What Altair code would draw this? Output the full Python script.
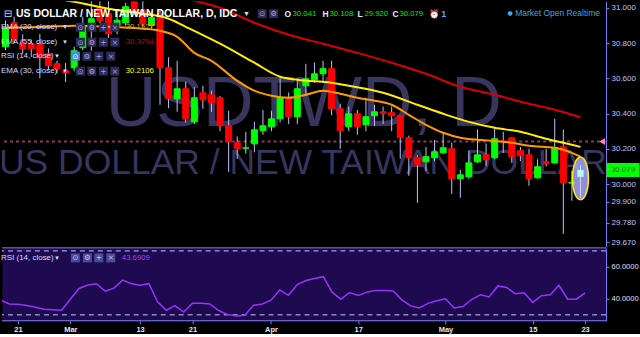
import altair as alt
import pandas as pd

# ---------------- data ----------------
opens = [30.78, 30.916, 30.802, 30.796, 30.796, 30.74, 30.683, 30.643, 30.66, 30.774,
         30.916, 31.0, 30.967, 30.90, 30.916, 31.035, 30.99, 30.90, 30.967, 30.66,
         30.484, 30.541, 30.353, 30.518, 30.507, 30.49, 30.331, 30.234, 30.203, 30.228,
         30.302, 30.325, 30.37, 30.49, 30.382, 30.558, 30.592, 30.626, 30.655, 30.427,
         30.325, 30.399, 30.336, 30.388, 30.41, 30.405, 30.388, 30.263, 30.149, 30.126,
         30.149, 30.177, 30.20, 30.03, 30.041, 30.126, 30.166, 30.149, 30.245, 30.263,
         30.189, 30.166, 30.035, 30.126, 30.12, 30.211, 30.005, 30.041]
closes = [30.89, 30.825, 30.768, 30.768, 30.717, 30.672, 30.655, 30.632, 30.757, 30.899,
          30.939, 30.927, 30.853, 30.93, 31.007, 30.973, 30.91, 30.945, 30.66, 30.484,
          30.541, 30.37, 30.49, 30.478, 30.461, 30.331, 30.24, 30.20, 30.206, 30.308,
          30.331, 30.37, 30.49, 30.382, 30.541, 30.598, 30.626, 30.655, 30.427, 30.302,
          30.399, 30.325, 30.382, 30.41, 30.40, 30.388, 30.263, 30.149, 30.109, 30.155,
          30.183, 30.206, 30.03, 30.052, 30.12, 30.166, 30.138, 30.257, 30.24, 30.155,
          30.16, 30.03, 30.098, 30.115, 30.206, 30.007, 30.01, 30.079]
highs = [30.93, 30.95, 30.85, 30.82, 30.853, 30.77, 30.70, 30.687, 30.78, 30.95,
         31.04, 31.04, 31.04, 30.98, 31.03, 31.05, 31.04, 30.98, 30.99, 30.72,
         30.70, 30.58, 30.55, 30.558, 30.53, 30.50, 30.416, 30.27, 30.297, 30.353,
         30.42, 30.416, 30.60, 30.52, 30.60, 30.683, 30.69, 30.70, 30.70, 30.456,
         30.44, 30.42, 30.49, 30.45, 30.44, 30.44, 30.39, 30.275, 30.166, 30.21,
         30.25, 30.29, 30.234, 30.081, 30.189, 30.31, 30.23, 30.325, 30.297, 30.263,
         30.21, 30.20, 30.14, 30.20, 30.37, 30.31, 30.075, 30.108]
lows = [30.76, 30.80, 30.74, 30.72, 30.60, 30.65, 30.63, 30.58, 30.64, 30.76,
        30.757, 30.90, 30.83, 30.85, 30.90, 30.96, 30.88, 30.88, 30.45, 30.43,
        30.41, 30.35, 30.34, 30.427, 30.41, 30.30, 30.069, 30.143, 30.172, 30.18,
        30.28, 30.30, 30.35, 30.34, 30.34, 30.501, 30.575, 30.575, 30.39, 30.20,
        30.30, 30.28, 30.30, 30.33, 30.34, 30.30, 30.143, 30.047, 29.893, 30.075,
        30.13, 30.17, 29.944, 29.922, 30.03, 30.12, 30.103, 30.14, 30.177, 30.12,
        30.13, 29.99, 30.03, 30.10, 30.115, 29.717, 29.905, 29.92]

rsi_values = [39.2, 36.8, 36.6, 35.8, 34.7, 33.5, 33.2, 32.9, 39.7, 46.5,
              48.7, 49.5, 44.8, 46.7, 51.7, 49.5, 48.5, 49.5, 38.2, 32.9,
              35.8, 31.7, 37.2, 37.2, 36.8, 32.7, 30.3, 29.3, 29.7, 36.0,
              36.8, 39.2, 45.5, 42.2, 48.9, 51.5, 52.7, 53.9, 44.2, 39.8,
              44.0, 42.2, 44.2, 45.3, 45.2, 45.0, 39.4, 35.6, 34.3, 37.2,
              38.8, 40.0, 34.3, 35.2, 39.6, 42.6, 41.2, 48.1, 47.1, 43.2,
              43.8, 37.8, 42.0, 42.6, 48.5, 39.8, 39.8, 43.7]

ema20_idx = [0, 5, 8, 12, 16, 18, 20, 22, 24, 27, 29, 31, 33, 35, 37, 39, 41, 43, 45, 47,
             49, 51, 53, 55, 57, 59, 61, 64, 66, 67]
ema20_val = [30.888, 30.893, 30.899, 30.893, 30.882, 30.870, 30.836, 30.745, 30.70, 30.586,
             30.53, 30.501, 30.49, 30.507, 30.53, 30.513, 30.49, 30.473, 30.45, 30.393,
             30.336, 30.291, 30.263, 30.251, 30.245, 30.234, 30.217, 30.206, 30.177, 30.155]
ema30_idx = [5, 8, 12, 16, 19, 21, 25, 29, 32, 34, 38, 40, 44, 48, 51, 54, 57, 60, 63, 65, 67]
ema30_val = [31.06, 31.035, 30.995, 30.967, 30.939, 30.893, 30.797, 30.689, 30.609, 30.592,
             30.575, 30.558, 30.518, 30.45, 30.399, 30.353, 30.319, 30.297, 30.257, 30.234, 30.211]
ema55_idx = [18, 22, 25, 29, 33, 37, 41, 45, 49, 53, 57, 61, 64, 67]
ema55_val = [31.07, 31.041, 31.001, 30.916, 30.848, 30.797, 30.745, 30.689, 30.626, 30.552,
             30.507, 30.456, 30.422, 30.379]

tick_idx = [2, 8, 16, 22, 31, 41, 51, 61, 67]
tick_lbl = ["21", "Mar", "13", "21", "Apr", "17", "May", "15", "23"]
price_ticks = [31.0, 30.8, 30.6, 30.4, 30.2, 30.0, 29.9, 29.78, 29.67]
rsi_ticks = [60, 40]
rsi_levels = [70, 30]
hline_level = 30.241
highlight_idx = 67
highlight_center = 30.032

title_text = "US DOLLAR / NEW TAIWAN DOLLAR, D, IDC"
wm_big = "USDTWD, D"
wm_small = "US DOLLAR / NEW TAIWAN DOLLAR"
ohlc_labels = ["O", "H", "L", "C"]
ohlc_values = ["30.041", "30.108", "29.920", "30.079"]
last_close_txt = "30.079"
ema20_txt, ema55_txt, ema30_txt, rsi_txt = "30.1527", "30.3794", "30.2106", "43.6909"

# ---------------- styling ----------------
SANS = "Liberation Sans"
LAV = "#8080ff"

n = len(opens)
candles = pd.DataFrame({"i": list(range(n)), "o": opens, "h": highs, "l": lows, "c": closes})
candles["dir"] = ["up" if c >= o else "down" for o, c in zip(opens, closes)]

xs = alt.Scale(domain=[0.17, 69.4], nice=False, zero=False)
ys = alt.Scale(domain=[29.643, 31.038], nice=False, zero=False)
rs = alt.Scale(domain=[26.3, 71.9], nice=False, zero=False)
dir_scale = alt.Scale(domain=["up", "down"], range=["#00ff00", "#ff0000"])


def txt(s, x, y, color, size=8, weight="normal", font=SANS, align="left", baseline="middle", clip=False):
    return alt.Chart(pd.DataFrame({"t": [s]})).mark_text(
        align=align, baseline=baseline, color=color, fontSize=size,
        fontWeight=weight, font=font, clip=clip
    ).encode(x=alt.value(x), y=alt.value(y), text="t:N")


def icon(x, y, glyph, box="#2c2c5c", fg="#a8a8d8"):
    b = alt.Chart(pd.DataFrame({"t": [glyph]})).mark_point(
        shape="square", filled=True, size=81, color=box, opacity=1
    ).encode(x=alt.value(x), y=alt.value(y))
    return [b, txt(glyph, x, y + 0.5, fg, size=7.5, font="DejaVu Sans", align="center")]


price_axis = alt.Axis(orient="right", values=price_ticks, format=".3f", title=None, grid=False,
                      labelColor="#c0c0ff", domainColor=LAV, tickColor=LAV, tickSize=3,
                      labelPadding=2, labelFontSize=8, labelFont=SANS, labelOverlap=False,
                      labelFlush=False)


def PY(field):
    return alt.Y(field, scale=ys, axis=price_axis)


def PX(field):
    return alt.X(field, scale=xs, axis=None)


base = alt.Chart(candles)
wm1 = txt(wm_big, 104, 125, "#38355f", size=70, baseline="alphabetic", clip=True)
wm2 = txt(wm_small, -3, 173, "#38355f", size=35.5, baseline="alphabetic", clip=True)

hline = alt.Chart(pd.DataFrame({"v": [hline_level]})).mark_rule(
    color="#8b3a60", strokeDash=[3, 3], strokeWidth=2
).encode(y=PY("v:Q"))

wick = base.mark_rule(color="#c0c0ff", strokeWidth=1, clip=True).encode(
    x=PX("i:Q"), y=PY("l:Q"), y2="h:Q")
body = base.mark_bar(size=6, strokeWidth=1, clip=True).encode(
    x=PX("i:Q"), y=PY("o:Q"), y2="c:Q",
    color=alt.Color("dir:N", scale=dir_scale, legend=None),
    stroke=alt.Stroke("dir:N", scale=dir_scale, legend=None),
)


def ema_layer(idx, vals, color):
    return alt.Chart(pd.DataFrame({"i": idx, "v": vals})).mark_line(
        strokeWidth=2, clip=True, interpolate="monotone", color=color
    ).encode(x=PX("i:Q"), y=PY("v:Q"), order="i:Q")


ema20 = ema_layer(ema20_idx, ema20_val, "#ff9a00")
ema30 = ema_layer(ema30_idx, ema30_val, "#ffee00")
ema55 = ema_layer(ema55_idx, ema55_val, "#d80000")

ellipse_path = "M0,-1A0.372,1,0,1,1,0,1A0.372,1,0,1,1,0,-1Z"
ell = alt.Chart(pd.DataFrame({"i": [highlight_idx], "v": [highlight_center]})).mark_point(
    shape=ellipse_path, size=1849, filled=True, fill="#a8a8ff", fillOpacity=0.85,
    stroke="#ffee00", strokeWidth=1.5, opacity=1
).encode(x=PX("i:Q"), y=PY("v:Q"))

last = base.transform_filter(alt.datum.i == highlight_idx)
last_wick = last.mark_rule(color="#d0d0ff", strokeWidth=1).encode(x=PX("i:Q"), y=PY("l:Q"), y2="h:Q")
last_body = last.mark_bar(size=6, color="#b0fff0").encode(x=PX("i:Q"), y=PY("o:Q"), y2="c:Q")

tri = alt.Chart(pd.DataFrame({"v": [hline_level]})).mark_point(
    shape="triangle-left", filled=True, color="#ff80c0", size=45, opacity=1
).encode(x=alt.value(601), y=PY("v:Q"))

tag_df = pd.DataFrame({"v": [closes[-1]], "t": [last_close_txt]})
tag = alt.Chart(tag_df).mark_tick(orient="horizontal", size=33, thickness=14, color="#00ff00", opacity=1).encode(
    x=alt.value(622), y=PY("v:Q"))
tag_txt = alt.Chart(tag_df).mark_text(color="#4a4a4a", fontSize=8, font=SANS, align="center").encode(
    x=alt.value(622), y=PY("v:Q"), text="t:N")

# legend overlays (top-left)
ov = []
ov.append(txt("\u229f", 6, 13, "#d0d0ff", size=10, font="DejaVu Sans", align="center"))
ov.append(txt(title_text, 14, 13, "#ffffff", size=10.5, weight="bold"))
ov.append(txt("\u25be", 245, 13, "#e0e0ff", size=8, font="DejaVu Sans", align="center"))
ov += icon(260.5, 12.5, "\u2299")
ov += icon(272, 12.5, "\u2699")
for lab, val, lx, vx in zip(ohlc_labels, ohlc_values, [283, 321, 356, 391], [291, 328, 363, 398]):
    ov.append(txt(lab, lx, 13, "#e8e8ff", size=8.5, weight="bold"))
    ov.append(txt(val, vx, 13, "#00e600", size=7.8))
ov.append(txt("\u23f0", 433, 13, "#5aa0ff", size=8.5, font="DejaVu Sans", align="center"))
ov.append(txt("1", 440, 13, "#5aa0ff", size=9, weight="bold"))
ov.append(txt("\u25cf", 509, 12, "#4aa8e8", size=6, font="DejaVu Sans", align="center"))
ov.append(txt("Market Open  Realtime", 514, 12, "#4aa0d8", size=8.5))

rows = [("EMA (20, close)", 26, ema20_txt, "#d8a000"),
        ("EMA (55, close)", 41, ema55_txt, "#cc0000"),
        ("RSI (14, close)", 55, None, None),
        ("EMA (30, close)", 70, ema30_txt, "#ffff00")]
for name, yy, val, col in rows:
    ov.append(txt(name, -1, yy, "#dcdcff", size=8))
    arrow_x = 55 if val is None else 63
    ov.append(txt("\u25be", arrow_x, yy, "#dcdcff", size=7, font="DejaVu Sans", align="center"))
    xs_icons = [73.5, 85, 97, 109] if val is None else [78.5, 90, 101.5, 113]
    for k, (gx, g) in enumerate(zip(xs_icons, ["\u2299", "\u2699", "+", "\u00d7"])):
        if val is None and k == 0:
            ov += icon(gx, yy, g, box="#3d8fe0", fg="#ffffff")
        else:
            ov += icon(gx, yy, g)
    if val is not None:
        ov.append(txt(val, 124, yy, col, size=7.8))

price = alt.layer(wm1, wm2, hline, wick, body, ema20, ema30, ema55, ell, last_wick, last_body,
                  tri, tag, tag_txt, *ov).properties(
    width=605, height=246, view=alt.ViewBackground(fill="#000000", stroke="transparent"))

# ---------------- RSI pane ----------------
rsi_df = pd.DataFrame({"i": list(range(n)), "r": rsi_values})
label_expr = "[" + ",".join("'%s'" % s for s in tick_lbl) + "][indexof([" + ",".join(str(t) for t in tick_idx) + "], datum.value)]"
x_axis = alt.Axis(values=tick_idx, labelExpr=label_expr, title=None, grid=False, domain=False,
                  labelColor="#e6e6f0", tickColor=LAV, tickSize=3, labelPadding=2,
                  labelFontSize=7.5, labelFontWeight="bold", labelFont=SANS, labelFlush=False)
rsi_axis = alt.Axis(orient="right", values=rsi_ticks, format=".4f", title=None, grid=False,
                    labelColor="#e0e0f0", domainColor=LAV, tickColor=LAV, tickSize=3,
                    labelPadding=2, labelFontSize=7.5, labelFont=SANS)

levels = alt.Chart(pd.DataFrame({"v": rsi_levels})).mark_rule(
    color="#c8c8ff", strokeDash=[5, 4], strokeWidth=1
).encode(y=alt.Y("v:Q", scale=rs, axis=rsi_axis))
rsi_line = alt.Chart(rsi_df).mark_line(color="#9b30ff", strokeWidth=1.5, clip=True).encode(
    x=alt.X("i:Q", scale=xs, axis=x_axis),
    y=alt.Y("r:Q", scale=rs, axis=rsi_axis),
)
borders = [
    alt.Chart(pd.DataFrame({"t": [k]})).mark_rule(color=LAV, strokeWidth=1).encode(
        x=alt.value(0), x2=alt.value(605), y=alt.value(yv))
    for k, yv in enumerate([0, 73])
]
rov = [txt("RSI (14, close)", -1, 10, "#dcdcff", size=8),
       txt("\u25be", 55, 10, "#dcdcff", size=7, font="DejaVu Sans", align="center")]
for gx, g in zip([73.5, 85.5, 97, 109], ["\u2299", "\u2699", "+", "\u00d7"]):
    rov += icon(gx, 10, g, box="#4a4a9a", fg="#c0c0f0")
rov.append(txt(rsi_txt, 120, 10, "#a040ff", size=7.8))

rsi = alt.layer(levels, rsi_line, *borders, *rov).properties(
    width=605, height=73, view=alt.ViewBackground(fill="#1e0a4e", stroke="transparent"))

chart = alt.vconcat(price, rsi, spacing=1, bounds="flush").properties(
    padding=0, background="#000000")

chart.save("out.html", embed_options={"renderer": "svg", "actions": False})
